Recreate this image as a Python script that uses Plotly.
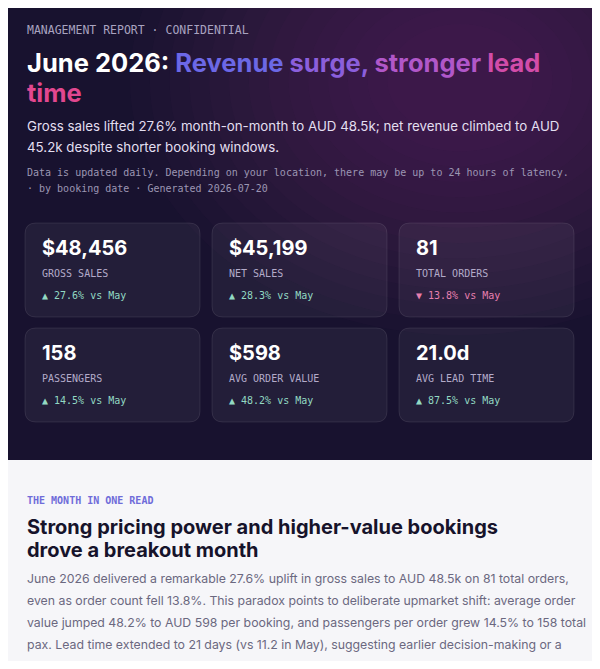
import plotly.graph_objects as go

kpi_values = ["$48,456", "$45,199", "81", "158", "$598", "21.0d"]
kpi_labels = ["GROSS SALES", "NET SALES", "TOTAL ORDERS", "PASSENGERS", "AVG ORDER VALUE", "AVG LEAD TIME"]
kpi_changes = [27.6, 28.3, -13.8, 14.5, 48.2, 87.5]
compare_month = "May"

W, H = 600, 669
M = 8  # page body margin
fig = go.Figure()
shapes, ann = [], []

def rrect(x0, y0, x1, y1, r, fill, line=None, lw=0):
    p = (f"M{x0+r},{y0} L{x1-r},{y0} Q{x1},{y0} {x1},{y0+r} L{x1},{y1-r} Q{x1},{y1} {x1-r},{y1} "
         f"L{x0+r},{y1} Q{x0},{y1} {x0},{y1-r} L{x0},{y0+r} Q{x0},{y0} {x0+r},{y0} Z")
    shapes.append(dict(type="path", path=p, xref="x", yref="y", fillcolor=fill,
                       line=dict(color=line or "rgba(0,0,0,0)", width=lw), layer="below"))

def text(x, y, s, size, color, family="Inter", bold=False):
    ann.append(dict(x=x, y=y, xref="x", yref="y", text=(f"<b>{s}</b>" if bold else s), showarrow=False,
                    xanchor="left", yanchor="middle", font=dict(size=size, color=color, family=family)))

shapes.append(dict(type="rect", x0=0, y0=0, x1=W, y1=H, fillcolor="#f6f6f9", line_width=0, layer="below"))
shapes.append(dict(type="rect", x0=6, y0=8, x1=594, y1=460, fillcolor="#18122f", line_width=0, layer="below"))
# soft glow top-right
for k in range(14):
    r = 300 - k * 18
    cx, cy = 460, 80
    shapes.append(dict(type="circle", x0=cx-r*1.1, y0=cy-r*0.85, x1=cx+r*1.1, y1=cy+r*0.85,
                       fillcolor="rgba(105,40,115,0.045)", line_width=0, layer="below"))
# re-cover outside of panel
shapes.append(dict(type="rect", x0=0, y0=460, x1=W, y1=H, fillcolor="#f6f6f9", line_width=0, layer="below"))
shapes.append(dict(type="rect", x0=0, y0=0, x1=W, y1=8, fillcolor="#f6f6f9", line_width=0, layer="below"))
shapes.append(dict(type="rect", x0=0, y0=0, x1=6, y1=460, fillcolor="#f6f6f9", line_width=0, layer="below"))
shapes.append(dict(type="rect", x0=594, y0=0, x1=W, y1=460, fillcolor="#f6f6f9", line_width=0, layer="below"))

MONO = "DejaVu Sans Mono"
text(25, 30, "MANAGEMENT REPORT · CONFIDENTIAL", 11.5, "#a9a3c0", MONO)
title1 = ("<b><span style='color:#ffffff'>June 2026: </span><span style='color:#6c68e6'>Revenue </span>"
          "<span style='color:#8b5fdc'>surge, </span><span style='color:#b157c9'>stronger </span>"
          "<span style='color:#d24ca9'>lead</span></b>")
ann.append(dict(x=25, y=62, xref="x", yref="y", text=title1, showarrow=False, xanchor="left", yanchor="middle",
                font=dict(size=25.5, family="Inter")))
ann.append(dict(x=25, y=92, xref="x", yref="y", text="<b><span style='color:#e2478f'>time</span></b>", showarrow=False,
                xanchor="left", yanchor="middle", font=dict(size=25.5, family="Inter")))
text(25, 126, "Gross sales lifted 27.6% month-on-month to AUD 48.5k; net revenue climbed to AUD", 13.3, "#e3dff0")
text(25, 147, "45.2k despite shorter booking windows.", 13.3, "#e3dff0")
text(25, 172, "Data is updated daily. Depending on your location, there may be up to 24 hours of latency.", 10.0, "#9c96b3", MONO)
text(25, 188, "· by booking date · Generated 2026-07-20", 10.0, "#9c96b3", MONO)

cols = [25, 212, 399]
rows = [223, 328]
for i, (v, l, c) in enumerate(zip(kpi_values, kpi_labels, kpi_changes)):
    x0 = cols[i % 3]; y0 = rows[i // 3]
    rrect(x0, y0, x0+175, y0+94, 11, "rgba(255,255,255,0.05)", "rgba(255,255,255,0.09)", 1)
    text(x0+15, y0+25, v, 20, "#ffffff", "Inter", True)
    text(x0+15, y0+50, l, 10, "#b3abc9", MONO)
    if c >= 0:
        text(x0+15, y0+72, f"▲ {c:.1f}% vs {compare_month}", 10, "#92d9c3", MONO)
    else:
        text(x0+15, y0+72, f"▼ {abs(c):.1f}% vs {compare_month}", 10, "#e67fae", MONO)

text(25, 500, "THE MONTH IN ONE READ", 10, "#6f6cd9", MONO, True)
text(25, 527, "Strong pricing power and higher-value bookings", 20, "#16132b", "Inter", True)
text(25, 550, "drove a breakout month", 20, "#16132b", "Inter", True)
para = ["June 2026 delivered a remarkable 27.6% uplift in gross sales to AUD 48.5k on 81 total orders,",
        "even as order count fell 13.8%. This paradox points to deliberate upmarket shift: average order",
        "value jumped 48.2% to AUD 598 per booking, and passengers per order grew 14.5% to 158 total",
        "pax. Lead time extended to 21 days (vs 11.2 in May), suggesting earlier decision-making or a",
        "pre-planned travel season peak."]
for k, s in enumerate(para):
    text(25, 578 + 22.3*k, s, 12.3, "#6b6880")

fig.update_layout(width=W-2*M, height=H-2*M, margin=dict(l=0, r=0, t=0, b=0), shapes=shapes, annotations=ann,
                  paper_bgcolor="#f6f6f9", plot_bgcolor="#f6f6f9", showlegend=False,
                  xaxis=dict(range=[M, W-M], visible=False, fixedrange=True),
                  yaxis=dict(range=[H-M, M], visible=False, fixedrange=True))
fig.write_html("out.html", config={"displayModeBar": False})
